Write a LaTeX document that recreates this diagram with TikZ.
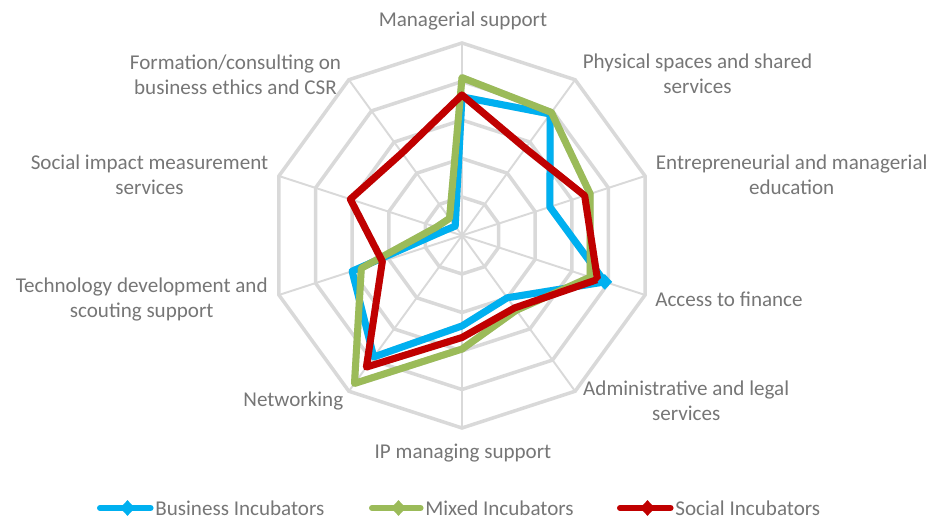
\documentclass[tikz,border=0pt]{standalone}
\usepackage{fontspec}
\setmainfont{Carlito}
\usepackage{tikz}
\usetikzlibrary{calc,shapes.geometric}

\definecolor{gridgray}{RGB}{217,217,217}
\definecolor{txtgray}{RGB}{118,118,118}
\definecolor{bizblue}{RGB}{0,176,240}
\definecolor{mixgreen}{RGB}{155,187,89}
\definecolor{socred}{RGB}{192,0,0}

\begin{document}
\begin{tikzpicture}[x=0.02cm,y=0.02cm,
        every node/.style={text=txtgray,font=\fontsize{12}{14.3}\selectfont,align=center,inner sep=0pt},
        gridring/.style={draw=gridgray,line width=2pt},
        gridspoke/.style={draw=gridgray,line width=1.1pt},
        dataline/.style={line width=4pt,line join=round},
        shadowline/.style={line width=4pt,line join=round,draw=black,opacity=.12,shift={(1.5,-1.5)}},
        legline/.style={line width=3.4pt,line cap=round,shorten >=2.5pt},
        dmark/.style={diamond,draw=none,minimum width=0.3cm,minimum height=0.32cm}]
        \def\R{192.5}
        \useasboundingbox (-462,-283.5) rectangle (472,235.5);

        % grid
        \foreach \a in {0,...,9}
            \draw[gridspoke] (0,0) -- (90-36*\a:\R);
        \foreach \k in {1,...,5}
            \draw[gridring] (90:\k*\R/5) \foreach \a in {1,...,9}{ -- (90-36*\a:\k*\R/5)} -- cycle;

        % axis labels
        \node (l-man) at (1,214.5) {Managerial support};
        \node (l-phy) at (235.5,161.8) {Physical spaces and shared\\services};
        \node (l-ent) at (329.7,60.7) {Entrepreneurial and managerial\\education};
        \node (l-fin) at (267,-63.8) {Access to finance};
        \node (l-adm) at (224.2,-165) {Administrative and legal\\services};
        \node (l-ip)  at (1,-217.5) {IP managing support};
        \node (l-net) at (-168.7,-165.5) {Networking};
        \node (l-tec) at (-320.3,-63.7) {Technology development and\\scouting support};
        \node (l-soc) at (-312.5,60.5) {Social impact measurement\\services};
        \node (l-csr) at (-226.5,161) {Formation/consulting on\\business ethics and CSR};

        % data points
        \foreach \s/\vals in {biz/{.72,.78,.48,.78,.40,.47,.78,.60,.09,.06},
                              mix/{.82,.79,.70,.70,.48,.59,.95,.55,.14,.11},
                              soc/{.73,.56,.67,.74,.465,.53,.845,.435,.61,.53}}
            \foreach \v [count=\i from 0] in \vals
                \coordinate (\s-\i) at (90-36*\i:\v*\R);

        \foreach \s/\c in {biz/bizblue,mix/mixgreen,soc/socred}{
            \draw[shadowline] (\s-0) \foreach \i in {1,...,9}{ -- (\s-\i)} -- cycle;
            \draw[dataline,\c] (\s-0) \foreach \i in {1,...,9}{ -- (\s-\i)} -- cycle;
        }
        \node[dmark,fill=bizblue] (biz-mk) at (biz-3) {};

        % legend
        \node[anchor=west] (lg-biz) at (-307,-272.5) {Business Incubators};
        \node[anchor=west] (lg-mix) at (-37,-272.5) {Mixed Incubators};
        \node[anchor=west] (lg-soc) at (213,-272.5) {Social Incubators};
        \coordinate (lg-biz-s) at (-362,-272.5);
        \coordinate (lg-mix-s) at (-90,-272.5);
        \coordinate (lg-soc-s) at (158,-272.5);
        \draw[legline,bizblue] (lg-biz-s) -- (lg-biz.west);
        \draw[legline,mixgreen] (lg-mix-s) -- (lg-mix.west);
        \draw[legline,socred] (lg-soc-s) -- (lg-soc.west);
        \node[dmark,fill=bizblue] (lg-biz-mk) at ($(lg-biz-s)!.5!(lg-biz.west)$) {};
        \node[dmark,fill=mixgreen] (lg-mix-mk) at ($(lg-mix-s)!.5!(lg-mix.west)$) {};
        \node[dmark,fill=socred] (lg-soc-mk) at ($(lg-soc-s)!.5!(lg-soc.west)$) {};
\end{tikzpicture}
\end{document}
